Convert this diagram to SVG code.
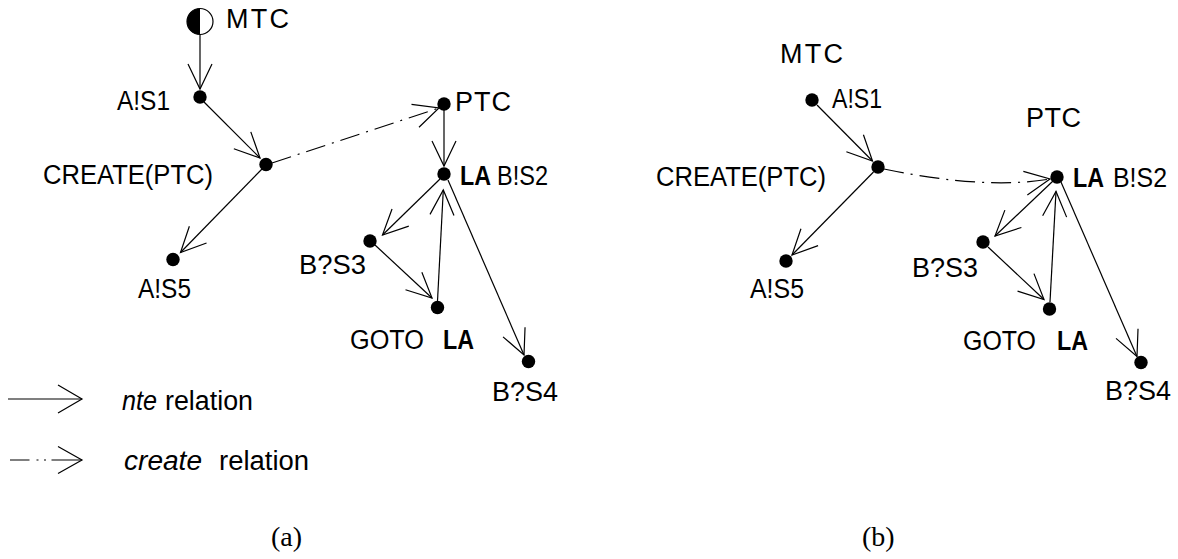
<svg xmlns="http://www.w3.org/2000/svg" width="1178" height="559" viewBox="0 0 1178 559">
  <style>
    .lbl { font-family: "Liberation Sans", Arial, sans-serif; font-size: 27px; fill: #000; }
    .b { font-weight: bold; }
    .it { font-style: italic; }
    .cap { font-family: "Liberation Serif", "Times New Roman", serif; font-size: 28px; fill: #000; }
    .dot { fill: #000; }
    .nte { stroke: #000; stroke-width: 1.2; fill: none; marker-end: url(#vhead); }
    .create { stroke: #000; stroke-width: 1.2; fill: none; stroke-dasharray: 20 7 2 7; marker-end: url(#vhead); }
    .plain { stroke: #000; stroke-width: 1.2; fill: none; }
  </style>
  <defs>
    <!-- open V arrowhead used by both relation kinds -->
    <marker id="vhead" markerUnits="userSpaceOnUse" markerWidth="60" markerHeight="60" refX="0" refY="0" viewBox="-30 -30 60 60" orient="auto" overflow="visible">
      <path d="M-25,-12 L0,0 L-25,12" fill="none" stroke="#000" stroke-width="1.2"/>
    </marker>
  </defs>
  <rect width="1178" height="559" fill="#fff"/>

  <!-- ===== panel (a) ===== -->
  <g id="connectors-a">
    <line class="nte" x1="200" y1="34.5" x2="200" y2="89"/>
    <line class="nte" x1="203" y1="101" x2="260" y2="158"/>
    <line class="nte" x1="262" y1="169" x2="180.5" y2="252.5"/>
    <line class="create" x1="272" y1="163" x2="439" y2="108"/>
    <line class="nte" x1="444" y1="110" x2="444" y2="166"/>
    <line class="nte" x1="440" y1="179" x2="382.5" y2="235"/>
    <line class="nte" x1="375" y1="245" x2="432" y2="298"/>
    <line class="nte" x1="437.5" y1="301" x2="443.3" y2="190"/>
    <line class="nte" x1="448" y1="180" x2="524" y2="355"/>
  </g>

  <g id="a-mtc">
    <circle cx="200" cy="21.5" r="13" fill="#fff" stroke="#000" stroke-width="1.2"/>
    <path d="M200,8.5 A13,13 0 0 0 200,34.5 Z" fill="#000"/>
    <text class="lbl" x="226" y="27.5" textLength="63" lengthAdjust="spacing">MTC</text>
  </g>
  <g id="a-as1">
    <circle class="dot" cx="200" cy="97" r="6.7"/>
    <text class="lbl" x="117" y="110" textLength="53" lengthAdjust="spacingAndGlyphs">A!S1</text>
  </g>
  <g id="a-create">
    <circle class="dot" cx="266" cy="164.5" r="6.7"/>
    <text class="lbl" x="43" y="183.5" textLength="170" lengthAdjust="spacingAndGlyphs">CREATE(PTC)</text>
  </g>
  <g id="a-as5">
    <circle class="dot" cx="173" cy="259.5" r="6.7"/>
    <text class="lbl" x="138" y="298" textLength="53" lengthAdjust="spacingAndGlyphs">A!S5</text>
  </g>
  <g id="a-ptc">
    <circle class="dot" cx="444" cy="104" r="6.7"/>
    <text class="lbl" x="455" y="111" textLength="56" lengthAdjust="spacing">PTC</text>
  </g>
  <g id="a-la">
    <circle class="dot" cx="444" cy="174" r="6.7"/>
    <text class="lbl b" x="460" y="185" textLength="31" lengthAdjust="spacingAndGlyphs">LA</text>
    <text class="lbl" x="497" y="185" textLength="51" lengthAdjust="spacingAndGlyphs">B!S2</text>
  </g>
  <g id="a-bs3">
    <circle class="dot" cx="370" cy="241" r="6.7"/>
    <text class="lbl" x="299" y="274" textLength="67" lengthAdjust="spacingAndGlyphs">B?S3</text>
  </g>
  <g id="a-goto">
    <circle class="dot" cx="437.5" cy="307.5" r="6.7"/>
    <text class="lbl" x="350" y="349" textLength="74" lengthAdjust="spacingAndGlyphs">GOTO</text>
    <text class="lbl b" x="443" y="349" textLength="31" lengthAdjust="spacingAndGlyphs">LA</text>
  </g>
  <g id="a-bs4">
    <circle class="dot" cx="528.5" cy="361.5" r="6.7"/>
    <text class="lbl" x="492" y="401" textLength="66" lengthAdjust="spacingAndGlyphs">B?S4</text>
  </g>

  <!-- legend -->
  <g id="legend">
    <line class="plain" x1="8" y1="399" x2="82" y2="399"/>
    <path class="plain" d="M58,385 L82,399 L58,413"/>
    <text class="lbl it" x="122" y="410" textLength="35" lengthAdjust="spacingAndGlyphs">nte</text>
    <text class="lbl" x="165" y="410" textLength="88" lengthAdjust="spacingAndGlyphs">relation</text>
    <path class="plain" d="M10,460 H29.5 M36.5,460 H38.5 M44,460 H46 M51.5,460 H82"/>
    <path class="plain" d="M58,446.5 L82,460 L58,473.5"/>
    <text class="lbl it" x="124" y="470" textLength="78" lengthAdjust="spacingAndGlyphs">create</text>
    <text class="lbl" x="219" y="470" textLength="90" lengthAdjust="spacingAndGlyphs">relation</text>
  </g>
  <text class="cap" x="271" y="546">(a)</text>

  <!-- ===== panel (b) ===== -->
  <g id="connectors-b">
    <line class="nte" x1="817" y1="105" x2="872.5" y2="161"/>
    <line class="nte" x1="873.5" y1="172" x2="792" y2="255"/>
    <path class="create" d="M884,169 Q985,190 1050,179"/>
    <line class="nte" x1="1053" y1="181" x2="995" y2="236"/>
    <line class="nte" x1="988" y1="247" x2="1044" y2="299.5"/>
    <line class="nte" x1="1050" y1="302" x2="1056" y2="191.5"/>
    <line class="nte" x1="1061" y1="182" x2="1137" y2="356.5"/>
  </g>

  <g id="b-mtc">
    <text class="lbl" x="780" y="63" textLength="63" lengthAdjust="spacing">MTC</text>
  </g>
  <g id="b-as1">
    <circle class="dot" cx="812" cy="100" r="6.7"/>
    <text class="lbl" x="832" y="107.5" textLength="50" lengthAdjust="spacingAndGlyphs">A!S1</text>
  </g>
  <g id="b-create">
    <circle class="dot" cx="878" cy="167" r="6.7"/>
    <text class="lbl" x="656" y="186" textLength="170" lengthAdjust="spacingAndGlyphs">CREATE(PTC)</text>
  </g>
  <g id="b-as5">
    <circle class="dot" cx="786" cy="261" r="6.7"/>
    <text class="lbl" x="750" y="298" textLength="54" lengthAdjust="spacingAndGlyphs">A!S5</text>
  </g>
  <g id="b-ptc">
    <text class="lbl" x="1026" y="127" textLength="55" lengthAdjust="spacing">PTC</text>
  </g>
  <g id="b-la">
    <circle class="dot" cx="1057" cy="177" r="6.7"/>
    <text class="lbl b" x="1073" y="186.5" textLength="31" lengthAdjust="spacingAndGlyphs">LA</text>
    <text class="lbl" x="1113" y="186.5" textLength="54" lengthAdjust="spacingAndGlyphs">B!S2</text>
  </g>
  <g id="b-bs3">
    <circle class="dot" cx="983" cy="242" r="6.7"/>
    <text class="lbl" x="912" y="276.5" textLength="66" lengthAdjust="spacingAndGlyphs">B?S3</text>
  </g>
  <g id="b-goto">
    <circle class="dot" cx="1049.5" cy="309" r="6.7"/>
    <text class="lbl" x="963" y="350" textLength="73" lengthAdjust="spacingAndGlyphs">GOTO</text>
    <text class="lbl b" x="1057" y="350" textLength="31" lengthAdjust="spacingAndGlyphs">LA</text>
  </g>
  <g id="b-bs4">
    <circle class="dot" cx="1141" cy="362.5" r="6.7"/>
    <text class="lbl" x="1105" y="400" textLength="66" lengthAdjust="spacingAndGlyphs">B?S4</text>
  </g>
  <text class="cap" x="862" y="546">(b)</text>
</svg>
